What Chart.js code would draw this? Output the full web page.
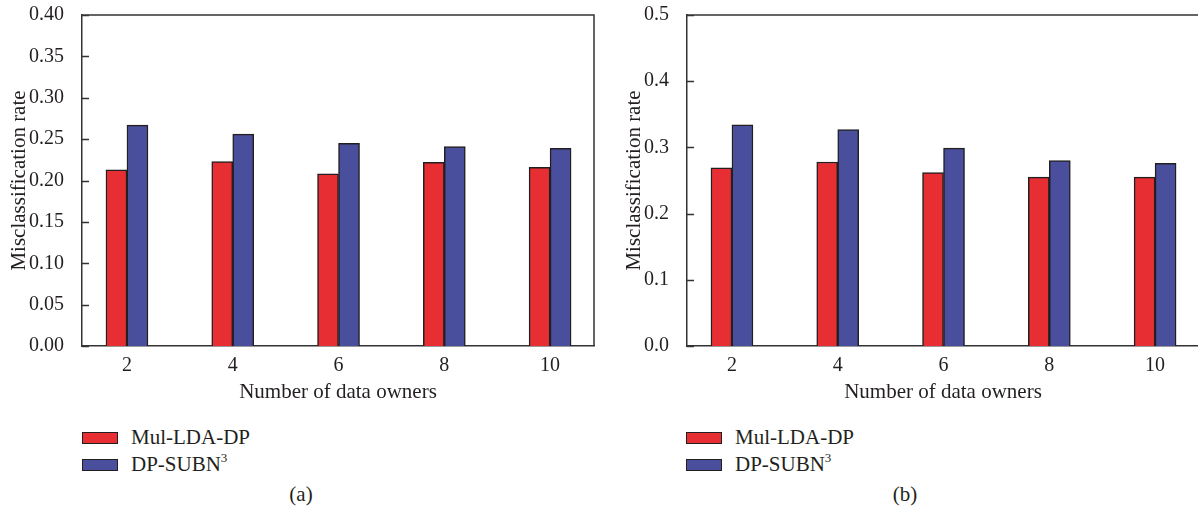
<!DOCTYPE html>
<html>
<head>
<meta charset="utf-8">
<script src="https://cdn.jsdelivr.net/npm/chart.js@4.4.0/dist/chart.umd.min.js"></script>
<style>
  html, body { margin: 0; padding: 0; background: #fff; overflow: hidden; }
  #page { position: relative; width: 1198px; height: 511px; overflow: hidden; font-family: 'Liberation Serif', serif; color: #231f20; }
  .panel { position: absolute; top: -7px; }
  .legend { position: absolute; top: 424px; margin: 0; padding: 0; list-style: none; font-size: 21px; }
  .legend li { display: flex; align-items: center; height: 27px; white-space: nowrap; }
  .legend .box { display: inline-block; box-sizing: border-box; width: 36px; height: 12px; border: 1.5px solid #231f20; margin-right: 13px; }
  .legend sup { font-size: 13px; vertical-align: 9px; line-height: 0; }
  .caption { position: absolute; top: 482px; font-size: 21px; transform: translateX(-50%); }
</style>
</head>
<body>
<div id="page">
  <canvas id="chartA" class="panel" style="left:0px" width="600" height="417"></canvas>
  <canvas id="chartB" class="panel" style="left:615px" width="590" height="417"></canvas>
  <ul id="legendA" class="legend" style="left:82px"></ul>
  <ul id="legendB" class="legend" style="left:686px"></ul>
  <div class="caption" style="left:301px">(a)</div>
  <div class="caption" style="left:905px">(b)</div>
</div>
<script>
// data
const owners = [2, 4, 6, 8, 10];
const seriesNames = ['Mul-LDA-DP', 'DP-SUBN³'];
const seriesColors = ['#e62e33', '#4a4f9d'];

// (a)
const mulA = [0.213, 0.223, 0.208, 0.222, 0.216];
const subnA = [0.267, 0.256, 0.245, 0.241, 0.239];
// (b)
const mulB = [0.269, 0.278, 0.262, 0.255, 0.255];
const subnB = [0.334, 0.327, 0.299, 0.280, 0.276];

const xTitle = 'Number of data owners';
const yTitle = 'Misclassification rate';

Chart.defaults.font.family = "'Liberation Serif', serif";
Chart.defaults.color = '#231f20';

const lineColor = '#333333';

// box around the plot area (top and right sides) + inward y tick marks
const framePlugin = {
  id: 'frame',
  afterDatasetsDraw(chart) {
    const { ctx, chartArea } = chart;
    const y = chart.scales.y;
    ctx.save();
    ctx.strokeStyle = lineColor;
    ctx.lineWidth = 1.5;
    ctx.beginPath();
    ctx.moveTo(chartArea.left, chartArea.top);
    ctx.lineTo(chartArea.right, chartArea.top);
    ctx.lineTo(chartArea.right, chartArea.bottom);
    y.ticks.forEach(t => {
      const py = Math.round(y.getPixelForValue(t.value)) + 0.5;
      ctx.moveTo(chartArea.left, py);
      ctx.lineTo(chartArea.left + 7, py);
    });
    ctx.stroke();
    ctx.restore();
  }
};

// legend as html list, built from the chart's own legend items
const htmlLegend = {
  id: 'htmlLegend',
  afterUpdate(chart, args, opts) {
    const ul = document.getElementById(opts.containerID);
    ul.innerHTML = '';
    const items = chart.options.plugins.legend.labels.generateLabels(chart);
    items.forEach(item => {
      const li = document.createElement('li');
      const box = document.createElement('span');
      box.className = 'box';
      box.style.background = item.fillStyle;
      const txt = document.createElement('span');
      const parts = item.text.split('³');
      txt.textContent = parts[0];
      if (parts.length > 1) {
        const sup = document.createElement('sup');
        sup.textContent = '3';
        txt.appendChild(sup);
      }
      li.appendChild(box);
      li.appendChild(txt);
      ul.appendChild(li);
    });
  }
};

function makeChart(id, legendId, mul, subn, yMax, yStep, decimals, yWidth) {
  return new Chart(document.getElementById(id), {
    type: 'bar',
    data: {
      labels: owners,
      datasets: [
        { label: seriesNames[0], data: mul, backgroundColor: seriesColors[0] },
        { label: seriesNames[1], data: subn, backgroundColor: seriesColors[1] }
      ]
    },
    options: {
      responsive: false,
      animation: false,
      barThickness: 21,
      borderColor: '#231f20',
      borderWidth: 1.5,
      layout: { padding: { top: 0, right: 6, left: 0, bottom: 0 } },
      plugins: {
        legend: { display: false },
        tooltip: { enabled: false },
        htmlLegend: { containerID: legendId }
      },
      scales: {
        x: {
          type: 'linear',
          offset: false,
          min: 1.15,
          max: 10.83,
          afterBuildTicks: scale => { scale.ticks = owners.map(v => ({ value: v })); },
          afterFit: scale => { scale.height = 64; },
          grid: { display: false },
          border: { display: true, color: lineColor, width: 1.5 },
          ticks: { padding: 0, font: { size: 20 } },
          title: { display: true, text: xTitle, font: { size: 21 }, padding: { top: 0, bottom: 5 } }
        },
        y: {
          min: 0,
          max: yMax,
          afterFit: scale => { scale.width = yWidth; },
          grid: { display: false },
          border: { display: true, color: lineColor, width: 1.5 },
          ticks: { stepSize: yStep, padding: 10, font: { size: 20 }, callback: v => v.toFixed(decimals) },
          title: { display: true, text: yTitle, font: { size: 21 }, padding: { top: 7, bottom: 0 } }
        }
      }
    },
    plugins: [framePlugin, htmlLegend]
  });
}

makeChart('chartA', 'legendA', mulA, subnA, 0.40, 0.05, 2, 82);
makeChart('chartB', 'legendB', mulB, subnB, 0.5, 0.1, 1, 72);
</script>
</body>
</html>
